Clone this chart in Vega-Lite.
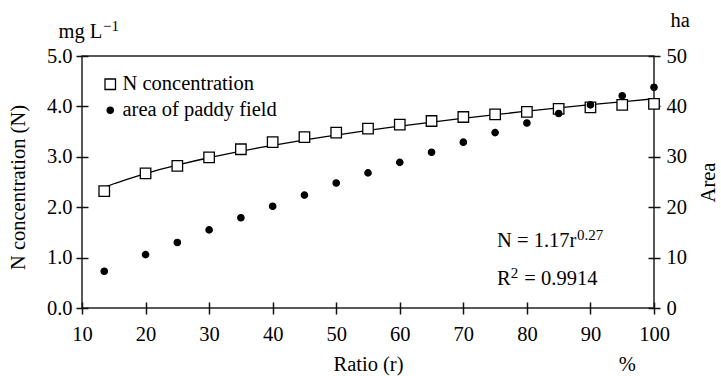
{
  "$schema": "https://vega.github.io/schema/vega-lite/v6.json",
  "width": 572,
  "height": 252,
  "autosize": "none",
  "padding": {"left": 82, "top": 56, "right": 67, "bottom": 68},
  "background": "white",
  "config": {
    "font": "Liberation Serif",
    "view": {"stroke": "#222", "strokeWidth": 1.5},
    "axis": {
      "grid": false,
      "labelFont": "Liberation Serif",
      "titleFont": "Liberation Serif",
      "labelFontSize": 20.5,
      "titleFontSize": 20.5,
      "titleFontWeight": "normal",
      "labelColor": "black",
      "titleColor": "black",
      "tickColor": "#111",
      "tickWidth": 1.5,
      "domain": false,
      "labelFlush": false,
      "labelOverlap": false
    },
    "legend": {
      "labelFont": "Liberation Serif",
      "labelFontSize": 20.5,
      "labelColor": "black"
    },
    "text": {"font": "Liberation Serif", "color": "black"}
  },
  "datasets": {
    "pts": [
      {"r": 13.5, "value": 2.32, "series": "N concentration"},
      {"r": 20, "value": 2.67, "series": "N concentration"},
      {"r": 25, "value": 2.82, "series": "N concentration"},
      {"r": 30, "value": 2.99, "series": "N concentration"},
      {"r": 35, "value": 3.15, "series": "N concentration"},
      {"r": 40, "value": 3.29, "series": "N concentration"},
      {"r": 45, "value": 3.39, "series": "N concentration"},
      {"r": 50, "value": 3.48, "series": "N concentration"},
      {"r": 55, "value": 3.56, "series": "N concentration"},
      {"r": 60, "value": 3.64, "series": "N concentration"},
      {"r": 65, "value": 3.71, "series": "N concentration"},
      {"r": 70, "value": 3.79, "series": "N concentration"},
      {"r": 75, "value": 3.84, "series": "N concentration"},
      {"r": 80, "value": 3.89, "series": "N concentration"},
      {"r": 85, "value": 3.95, "series": "N concentration"},
      {"r": 90, "value": 3.98, "series": "N concentration"},
      {"r": 95, "value": 4.03, "series": "N concentration"},
      {"r": 100, "value": 4.05, "series": "N concentration"},
      {"r": 13.5, "value": 7.3, "series": "area of paddy field"},
      {"r": 20, "value": 10.6, "series": "area of paddy field"},
      {"r": 25, "value": 13.0, "series": "area of paddy field"},
      {"r": 30, "value": 15.5, "series": "area of paddy field"},
      {"r": 35, "value": 17.9, "series": "area of paddy field"},
      {"r": 40, "value": 20.2, "series": "area of paddy field"},
      {"r": 45, "value": 22.4, "series": "area of paddy field"},
      {"r": 50, "value": 24.8, "series": "area of paddy field"},
      {"r": 55, "value": 26.8, "series": "area of paddy field"},
      {"r": 60, "value": 28.9, "series": "area of paddy field"},
      {"r": 65, "value": 30.9, "series": "area of paddy field"},
      {"r": 70, "value": 32.9, "series": "area of paddy field"},
      {"r": 75, "value": 34.8, "series": "area of paddy field"},
      {"r": 80, "value": 36.7, "series": "area of paddy field"},
      {"r": 85, "value": 38.6, "series": "area of paddy field"},
      {"r": 90, "value": 40.3, "series": "area of paddy field"},
      {"r": 95, "value": 42.1, "series": "area of paddy field"},
      {"r": 100, "value": 43.8, "series": "area of paddy field"}
    ]
  },
  "layer": [
    {
      "layer": [
        {
          "data": {"name": "pts"},
          "transform": [
            {"filter": "datum.series === 'N concentration'"},
            {"regression": "value", "on": "r", "method": "pow", "extent": [13.5, 100]}
          ],
          "mark": {"type": "line", "color": "black", "strokeWidth": 1.3},
          "encoding": {
            "x": {
              "field": "r", "type": "quantitative",
              "scale": {"domain": [10, 100], "nice": false, "zero": false},
              "axis": {
                "values": [10, 20, 30, 40, 50, 60, 70, 80, 90, 100],
                "title": "Ratio (r)",
                "offset": -6, "tickSize": 12, "labelPadding": 10, "titlePadding": 10
              }
            },
            "y": {
              "field": "value", "type": "quantitative",
              "scale": {"domain": [0, 5], "nice": false, "zero": false},
              "axis": {
                "orient": "left",
                "values": [0, 1, 2, 3, 4, 5],
                "format": ".1f",
                "title": "N concentration (N)",
                "titleY": 131,
                "offset": -6, "tickSize": 12, "labelPadding": 4, "titlePadding": 18
              }
            }
          }
        },
        {
          "data": {"name": "pts"},
          "transform": [{"filter": "datum.series === 'N concentration'"}],
          "mark": {"type": "point", "filled": true, "opacity": 1, "strokeWidth": 1.3},
          "encoding": {
            "x": {"field": "r", "type": "quantitative"},
            "y": {"field": "value", "type": "quantitative"},
            "shape": {"field": "series", "type": "nominal",
              "scale": {"domain": ["N concentration", "area of paddy field"], "range": ["square", "circle"]},
              "legend": {"title": null, "orient": "none", "legendX": 18, "legendY": 18, "padding": 0, "labelOffset": 2, "rowPadding": 5, "symbolOpacity": 1, "symbolStrokeWidth": 1.3}},
            "fill": {"field": "series", "type": "nominal",
              "scale": {"domain": ["N concentration", "area of paddy field"], "range": ["white", "black"]}},
            "stroke": {"field": "series", "type": "nominal",
              "scale": {"domain": ["N concentration", "area of paddy field"], "range": ["black", "black"]}},
            "size": {"field": "series", "type": "nominal",
              "scale": {"domain": ["N concentration", "area of paddy field"], "range": [110, 40]}}
          }
        },
        {
          "data": {"values": [{}]},
          "mark": {"type": "text", "text": "N = 1.17r", "align": "left", "baseline": "alphabetic", "fontSize": 20.5},
          "encoding": {"x": {"datum": 75.3, "type": "quantitative"}, "y": {"datum": 1.22, "type": "quantitative"}}
        },
        {
          "data": {"values": [{}]},
          "mark": {"type": "text", "text": "0.27", "align": "left", "baseline": "alphabetic", "fontSize": 15},
          "encoding": {"x": {"datum": 87.9, "type": "quantitative"}, "y": {"datum": 1.34, "type": "quantitative"}}
        },
        {
          "data": {"values": [{}]},
          "mark": {"type": "text", "text": "R", "align": "left", "baseline": "alphabetic", "fontSize": 20.5},
          "encoding": {"x": {"datum": 75.3, "type": "quantitative"}, "y": {"datum": 0.46, "type": "quantitative"}}
        },
        {
          "data": {"values": [{}]},
          "mark": {"type": "text", "text": "2", "align": "left", "baseline": "alphabetic", "fontSize": 15},
          "encoding": {"x": {"datum": 77.45, "type": "quantitative"}, "y": {"datum": 0.6, "type": "quantitative"}}
        },
        {
          "data": {"values": [{}]},
          "mark": {"type": "text", "text": "= 0.9914", "align": "left", "baseline": "alphabetic", "fontSize": 20.5},
          "encoding": {"x": {"datum": 79.6, "type": "quantitative"}, "y": {"datum": 0.46, "type": "quantitative"}}
        },
        {
          "data": {"values": [{}]},
          "mark": {"type": "text", "text": "mg L", "align": "left", "baseline": "alphabetic", "fontSize": 20.5},
          "encoding": {"x": {"datum": 6.3, "type": "quantitative"}, "y": {"datum": 5.36, "type": "quantitative"}}
        },
        {
          "data": {"values": [{}]},
          "mark": {"type": "text", "text": "−1", "align": "left", "baseline": "alphabetic", "fontSize": 15},
          "encoding": {"x": {"datum": 13.3, "type": "quantitative"}, "y": {"datum": 5.49, "type": "quantitative"}}
        },
        {
          "data": {"values": [{}]},
          "mark": {"type": "text", "text": "%", "align": "center", "baseline": "alphabetic", "fontSize": 20.5},
          "encoding": {"x": {"datum": 95.8, "type": "quantitative"}, "y": {"datum": -1.255, "type": "quantitative"}}
        }
      ]
    },
    {
      "layer": [
        {
          "data": {"name": "pts"},
          "transform": [{"filter": "datum.series === 'area of paddy field'"}],
          "mark": {"type": "point", "filled": true, "opacity": 1, "strokeWidth": 1.3},
          "encoding": {
            "x": {"field": "r", "type": "quantitative"},
            "y": {
              "field": "value", "type": "quantitative",
              "scale": {"domain": [0, 50], "nice": false, "zero": false},
              "axis": {
                "orient": "right",
                "values": [0, 10, 20, 30, 40, 50],
                "title": "Area",
                "titleAngle": 270,
                "titleBaseline": "top",
                "offset": -6, "tickSize": 12, "labelPadding": 6, "titlePadding": 12
              }
            },
            "shape": {"field": "series", "type": "nominal"},
            "fill": {"field": "series", "type": "nominal"},
            "stroke": {"field": "series", "type": "nominal"},
            "size": {"field": "series", "type": "nominal"}
          }
        },
        {
          "data": {"values": [{}]},
          "mark": {"type": "text", "text": "ha", "align": "center", "baseline": "alphabetic", "fontSize": 20.5},
          "encoding": {"x": {"datum": 104.1, "type": "quantitative"}, "y": {"datum": 55.7, "type": "quantitative"}}
        }
      ]
    }
  ],
  "resolve": {"scale": {"y": "independent"}}
}
